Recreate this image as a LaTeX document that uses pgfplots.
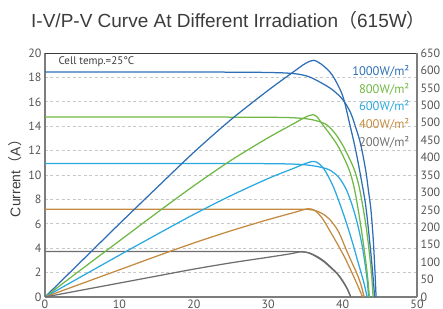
\documentclass[border=0pt]{standalone}
\usepackage{pgfplots}
\pgfplotsset{compat=1.18}
\usepackage{fontspec}
\setmainfont{Liberation Sans}
\newfontfamily\cjk{Noto Sans CJK SC}
\newfontfamily\din{PT Sans}
\definecolor{c1000}{RGB}{46,110,181}
\definecolor{c800}{RGB}{112,184,68}
\definecolor{c600}{RGB}{42,168,224}
\definecolor{c400}{RGB}{196,138,64}
\definecolor{c200}{RGB}{110,110,110}
\definecolor{axgray}{RGB}{125,125,125}
\definecolor{topdark}{RGB}{60,60,60}
\definecolor{gridgray}{RGB}{200,200,200}
\definecolor{tickgray}{RGB}{85,85,85}
\definecolor{titlegray}{RGB}{60,60,60}
\begin{document}
\begin{tikzpicture}
\pgfplotsset{every axis/.append style={scale only axis, width=372pt, height=244pt, xmin=0, xmax=50,
  major tick length=0pt, tick label style={font=\din\fontsize{12}{12}\selectfont, text=tickgray},
  /pgf/number format/assume math mode=true,
  every axis plot/.append style={line width=1.25pt, smooth, mark=none}}}
\begin{axis}[name=main, ymin=0, ymax=20,
  xtick={0,10,20,30,40,50}, ytick={0,2,...,20},
  axis x line*=bottom, axis y line*=left,
  axis line style={-, draw=axgray, line width=1.4pt},
  ymajorgrids, grid style={gridgray, dash pattern=on 3pt off 2.5pt, line width=0.7pt},
  xticklabel style={yshift=1pt}]
% I-V curves
\addplot[c1000] coordinates {(0,18.45)(10,18.45)(20,18.44)(28,18.42)(32,18.37)(34,18.27)(35.5,18.05)(37,17.6)(38.6,17.0)(40,16.2)(41,15.2)(41.6,14.2)(42.4,12.6)(43.1,10.4)(43.5,8.6)(43.8,7.2)(44.1,4.9)(44.3,2.7)(44.5,0)};
\addplot[c800] coordinates {(0,14.75)(20,14.75)(30,14.73)(33,14.7)(35,14.62)(36,14.52)(37,14.35)(37.9,14.1)(39,13.4)(40,12.46)(40.8,11.5)(41.6,10.4)(42.2,9.1)(42.7,7.5)(43.2,5.6)(43.6,3.6)(43.9,1.8)(44.1,0)};
\addplot[c600] coordinates {(0,10.95)(20,10.95)(30,10.93)(34,10.88)(36,10.76)(37.3,10.6)(38.3,10.4)(39.5,9.8)(40.5,8.8)(41.3,7.5)(42,6.0)(42.6,4.3)(43.0,2.8)(43.3,1.4)(43.5,0)};
\addplot[c400] coordinates {(0,7.2)(20,7.2)(34,7.2)(35.5,7.17)(36.5,7.05)(37.5,6.75)(38.5,6.2)(39.5,5.3)(40.4,4.0)(41.2,2.9)(42.0,1.8)(42.5,0.95)(42.9,0)};
\addplot[c200] coordinates {(0,3.72)(20,3.72)(33,3.72)(34.5,3.7)(35.5,3.62)(36.5,3.35)(37.5,2.95)(38.5,2.4)(39.3,1.92)(40.0,1.35)(40.6,0.72)(41.1,0)};
\end{axis}
\begin{axis}[ymin=0, ymax=700,
  ytick={0,50,...,700},
  yticklabels={0,50,100,150,200,250,300,350,400,450,500,500,550,600,650},
  xtick=\empty,
  axis y line*=right, axis x line*=top,
  y axis line style={-, draw=axgray, line width=1.4pt},
  x axis line style={-, draw=topdark, line width=0.9pt}]
% P-V curves
\addplot[c1000] coordinates {(0,0)(5,105)(10,210)(15,313)(20,415)(25,509)(30,593)(33.4,646)(35,670)(36.1,679)(37.2,667)(38.6,637)(40,578)(40.9,501)(41.7,427)(42.4,350)(43.1,263)(43.7,147)(44.1,56)(44.3,0)};
\addplot[c800] coordinates {(0,0)(5,81)(10,161)(15,241)(20,319)(25,392)(30,457)(33.4,497)(35,516)(36.0,523)(36.6,516)(37.3,495)(38.3,467)(39.3,436)(40.1,403)(40.9,364)(41.5,319)(42.0,263)(42.6,182)(43.1,105)(43.4,49)(43.6,0)};
\addplot[c600] coordinates {(0,0)(5,60)(10,120)(15,179)(20,237)(25,291)(30,340)(33.4,369)(35,383)(36.1,389)(36.8,383)(37.6,364)(38.7,319)(39.7,263)(40.6,207)(41.4,151)(42.1,98)(42.8,46)(43.3,0)};
\addplot[c400] coordinates {(0,0)(5,39)(10,78)(15,117)(20,155)(25,190)(30,222)(33.4,242)(35.3,253)(36.2,249)(37.2,228)(38.2,193)(39.2,156)(40.2,117)(41.1,77)(41.9,39)(42.7,0)};
\addplot[c200] coordinates {(0,0)(5,20)(10,40)(15,60)(20,80)(25,98)(30,114)(33,124)(34.5,130)(35.5,126)(36.5,115)(37.5,101)(38.5,82)(39.3,66)(40,45)(40.6,24)(41.1,0)};
\node[anchor=west, font=\din\fontsize{11}{11}\selectfont, text=topdark] at (rel axis cs:0.027,0.963) {Cell temp.=25°C};
\node[anchor=east, font=\din\fontsize{12.5}{12.5}\selectfont, text=c1000] at (rel axis cs:0.989,0.926) {1000W/m²};
\node[anchor=east, font=\din\fontsize{12.5}{12.5}\selectfont, text=c800] at (rel axis cs:0.989,0.852) {800W/m²};
\node[anchor=east, font=\din\fontsize{12.5}{12.5}\selectfont, text=c600] at (rel axis cs:0.989,0.780) {600W/m²};
\node[anchor=east, font=\din\fontsize{12.5}{12.5}\selectfont, text=c400] at (rel axis cs:0.989,0.708) {400W/m²};
\node[anchor=east, font=\din\fontsize{12.5}{12.5}\selectfont, text=c200] at (rel axis cs:0.989,0.635) {200W/m²};
\end{axis}
\node[rotate=90, font=\fontsize{14}{14}\selectfont, text=titlegray] at ([xshift=-30pt]main.west) {Current{\cjk（}A{\cjk）}};
\node[anchor=base, font=\fontsize{19}{19}\selectfont, text=titlegray] at ([xshift=-2.5pt,yshift=25pt]main.north) {I-V/P-V Curve At Different Irradiation{\cjk（}615W{\cjk）}};
\pgfresetboundingbox
\path[use as bounding box] ([xshift=-45pt,yshift=-11pt]main.south west) rectangle ([xshift=26pt,yshift=53pt]main.north east);
\end{tikzpicture}
\end{document}
